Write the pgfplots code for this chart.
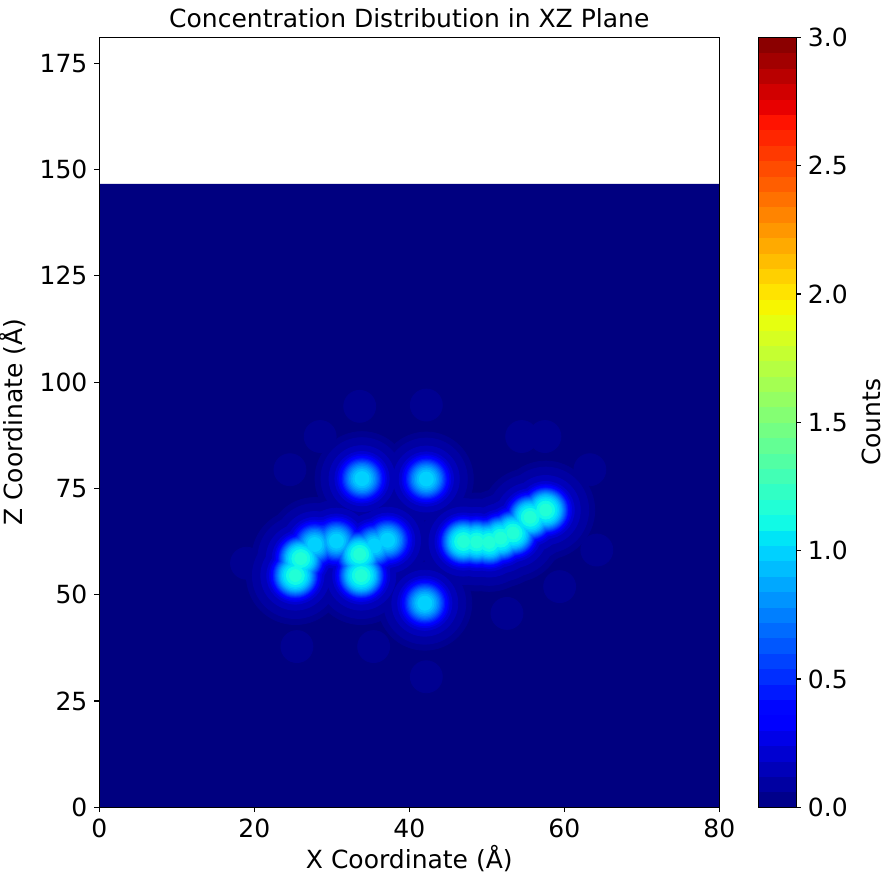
\documentclass[border=0pt]{standalone}
\usepackage{fontspec}
\setmainfont{DejaVu Sans}
\usepackage{pgfplots}
\usepackage{pgfplotstable}
\pgfplotsset{compat=1.18}
\definecolor{jetlow}{rgb}{0,0,0.5}
\newcommand{\fs}{\fontsize{12.5}{15}\selectfont}
\pgfplotsset{
  lv/.style={only marks, mark=*, scatter, point meta={#1}, forget plot,
    scatter/use mapped color={draw=mapped color, fill=mapped color}},
}
% blob centres (x, z)
\pgfplotstableread{
x y
25.3 54.5
26.0 58.5
33.6 59.5
33.8 54.5
47.0 62.5
48.7 62.4
50.3 62.3
51.8 63.3
53.4 64.5
55.6 68.2
57.6 69.9
}\hiTab
\pgfplotstableread{
x y
33.9 77.3
42.2 77.2
42.0 48.0
27.8 61.8
30.6 62.6
35.5 61.5
37.2 62.8
}\midTab
\pgfplotstableread{
x y
29.2 62.4
}\lowTab
\pgfplotstableread{
x y
33.6 94.3
42.2 94.6
54.5 87.2
57.5 87.2
28.5 87.2
24.6 79.4
63.3 79.4
64.2 60.5
59.4 51.9
52.6 45.6
35.4 37.8
25.5 37.8
42.2 30.7
19.0 57.4
}\faintTab
\begin{document}
\begin{tikzpicture}
\begin{axis}[
  name=main,
  scale only axis, width=310pt, height=385pt,
  xmin=0, xmax=80, ymin=0, ymax=181.1,
  xtick={0,20,40,60,80}, ytick={0,25,50,75,100,125,150,175},
  tick align=outside, xtick pos=bottom, ytick pos=left,
  major tick length=2.43pt,
  axis line style={line width=0.55pt},
  tick style={line width=0.55pt, black},
  tick label style={font=\fs},
  label style={font=\fs},
  title style={font=\fs, yshift=-5pt},
  xlabel style={yshift=3.5pt},
  /pgf/number format/assume math mode=true,
  title={Concentration Distribution in XZ Plane},
  xlabel={X Coordinate (Å)}, ylabel={Z Coordinate (Å)},
  axis on top,
  colormap={mjet}{rgb(0pt)=(0,0,0.5); rgb(22pt)=(0,0,1); rgb(25pt)=(0,0,1);
    rgb(68pt)=(0,0.86,1); rgb(70pt)=(0,0.9,0.968); rgb(75pt)=(0.081,1,0.887);
    rgb(128pt)=(0.935,1,0.032); rgb(130pt)=(0.968,0.963,0); rgb(132pt)=(1,0.926,0);
    rgb(178pt)=(1,0.074,0); rgb(182pt)=(0.909,0,0); rgb(200pt)=(0.5,0,0)},
  point meta min=0, point meta max=3,
  colorbar sampled,
  colorbar style={
    samples=51,
    at={(parent axis.north east)}, anchor=north west, xshift=10.85pt,
    scale only axis, width=19pt, height=385pt,
    ytick={0,0.5,1,1.5,2,2.5,3},
    yticklabel style={font=\fs, /pgf/number format/.cd, fixed, fixed zerofill, precision=1, assume math mode=true},
    ylabel={Counts}, ylabel style={font=\fs},
    tick align=outside, ytick pos=right, yticklabel pos=right,
    major tick length=2.43pt,
    tick style={line width=0.55pt, black},
    axis line style={line width=0.55pt},
  },
]
\addplot[fill=jetlow, draw=none, forget plot] coordinates {(0,0) (80,0) (80,146.6) (0,146.6) (0,0)};
% level 0.03 (diffuse glow) and faint spots
\addplot[lv=0.045, mark size=24.5pt] table {\hiTab};
\addplot[lv=0.045, mark size=23.5pt] table {\midTab};
\addplot[lv=0.045, mark size=22pt] table {\lowTab};
\addplot[lv=0.045, mark size=8pt] table {\faintTab};
% level 0.06
\addplot[lv=0.09, mark size=21.5pt] table {\hiTab};
\addplot[lv=0.09, mark size=20.5pt] table {\midTab};
\addplot[lv=0.09, mark size=19.5pt] table {\lowTab};
% level 0.12
\addplot[lv=0.15, mark size=17.3pt] table {\hiTab};
\addplot[lv=0.15, mark size=16.5pt] table {\midTab};
\addplot[lv=0.15, mark size=15.2pt] table {\lowTab};
% 0.18
\addplot[lv=0.21, mark size=14.3pt] table {\hiTab};
\addplot[lv=0.21, mark size=13.6pt] table {\midTab};
\addplot[lv=0.21, mark size=12.4pt] table {\lowTab};
% 0.24
\addplot[lv=0.27, mark size=13pt] table {\hiTab};
\addplot[lv=0.27, mark size=12.2pt] table {\midTab};
\addplot[lv=0.27, mark size=11pt] table {\lowTab};
% 0.30
\addplot[lv=0.33, mark size=12.2pt] table {\hiTab};
\addplot[lv=0.33, mark size=11.3pt] table {\midTab};
\addplot[lv=0.33, mark size=10pt] table {\lowTab};
% 0.36
\addplot[lv=0.39, mark size=11.6pt] table {\hiTab};
\addplot[lv=0.39, mark size=10.6pt] table {\midTab};
\addplot[lv=0.39, mark size=9.2pt] table {\lowTab};
% 0.42
\addplot[lv=0.45, mark size=11.1pt] table {\hiTab};
\addplot[lv=0.45, mark size=10pt] table {\midTab};
\addplot[lv=0.45, mark size=8.5pt] table {\lowTab};
% 0.48
\addplot[lv=0.51, mark size=10.7pt] table {\hiTab};
\addplot[lv=0.51, mark size=9.4pt] table {\midTab};
\addplot[lv=0.51, mark size=7.8pt] table {\lowTab};
% 0.54
\addplot[lv=0.57, mark size=10.2pt] table {\hiTab};
\addplot[lv=0.57, mark size=8.8pt] table {\midTab};
\addplot[lv=0.57, mark size=7pt] table {\lowTab};
% 0.60
\addplot[lv=0.63, mark size=9.8pt] table {\hiTab};
\addplot[lv=0.63, mark size=8.2pt] table {\midTab};
\addplot[lv=0.63, mark size=6.2pt] table {\lowTab};
% 0.66
\addplot[lv=0.69, mark size=9.3pt] table {\hiTab};
\addplot[lv=0.69, mark size=7.6pt] table {\midTab};
\addplot[lv=0.69, mark size=5.3pt] table {\lowTab};
% 0.72
\addplot[lv=0.75, mark size=8.8pt] table {\hiTab};
\addplot[lv=0.75, mark size=7pt] table {\midTab};
\addplot[lv=0.75, mark size=4.2pt] table {\lowTab};
% 0.78
\addplot[lv=0.81, mark size=8.3pt] table {\hiTab};
\addplot[lv=0.81, mark size=6.3pt] table {\midTab};
\addplot[lv=0.81, mark size=2.5pt] table {\lowTab};
% 0.84
\addplot[lv=0.87, mark size=7.8pt] table {\hiTab};
\addplot[lv=0.87, mark size=5.5pt] table {\midTab};
% 0.90
\addplot[lv=0.93, mark size=7.2pt] table {\hiTab};
\addplot[lv=0.93, mark size=4.6pt] table {\midTab};
% 0.96
\addplot[lv=0.99, mark size=6.5pt] table {\hiTab};
\addplot[lv=0.99, mark size=3.5pt] table {\midTab};
% 1.02
\addplot[lv=1.05, mark size=5.7pt] table {\hiTab};
% 1.08
\addplot[lv=1.11, mark size=4.5pt] table {\hiTab};
% 1.14
\addplot[lv=1.17, mark size=3pt] table {\hiTab};
\end{axis}
\pgfresetboundingbox
\path[use as bounding box] ([shift={(-49.65pt,-37.85pt)}]main.south west) rectangle ++(442.5pt,441.5pt);
\end{tikzpicture}
\end{document}
